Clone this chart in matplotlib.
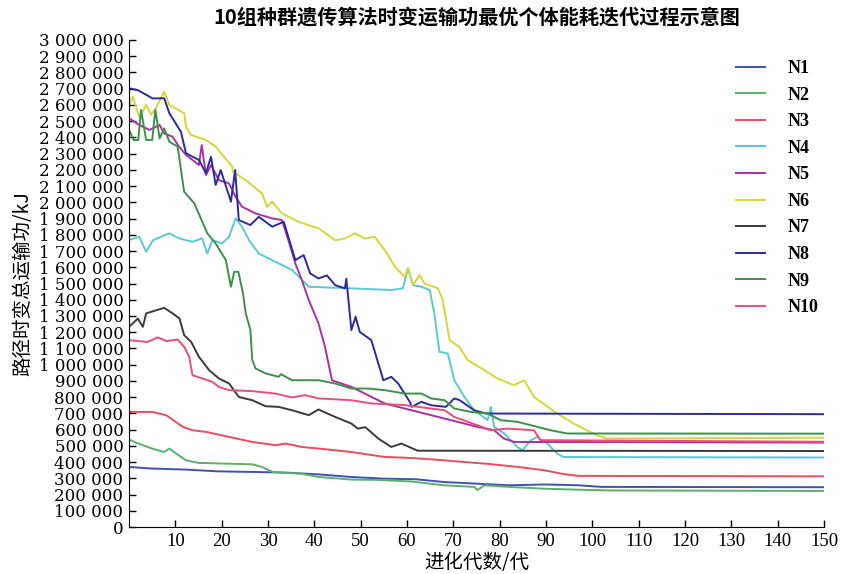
import matplotlib
matplotlib.use('Agg')
import matplotlib.pyplot as plt
import numpy as np
from matplotlib.ticker import FuncFormatter

# 数据读自原图 (x: 进化代数, y: 千kJ)
x_n1 = [0, 5, 12, 19, 27, 34, 41, 48, 55, 62, 68, 75, 82, 90, 97, 102, 150]
y_n1 = [370, 360, 354, 343, 339, 335, 324, 308, 298, 294, 277, 267, 257, 262, 257, 247, 245]

x_n2 = [0, 2, 5, 7.6, 8.7, 10.2, 12.3, 15, 21.6, 26.6, 28.7, 31, 34, 37, 41, 48, 54, 61, 68,
        74.5, 75.2, 76.7, 82, 89.5, 96.7, 104, 150]
y_n2 = [539, 514, 483, 462, 483, 452, 411, 395, 390, 386, 370, 339, 333, 329, 308, 292, 290, 280, 257,
        247, 228, 257, 247, 236, 230, 225, 222]

x_n3 = [0, 5, 8, 11.6, 13.7, 16.6, 21.6, 26.6, 31.6, 33.8, 37.3, 41, 48, 55, 61, 68, 72, 77, 84,
        89.5, 94, 97, 150]
y_n3 = [709, 709, 689, 617, 596, 586, 555, 524, 504, 514, 493, 483, 462, 432, 425, 411, 401, 390, 370,
        350, 325, 315, 312]

x_n4 = [0, 2.2, 3.7, 5.2, 8.7, 10.8, 13.7, 15.8, 16.9, 18, 20.1, 21.6, 23, 24.4, 25.9, 28, 31.6, 35.2,
        38.8, 48, 56.6, 59.1, 60.2, 61.3, 63.1, 64.9, 65.9, 67, 68.8, 70.2, 72.4, 74.5, 77.4, 78.1,
        78.8, 81, 83.8, 84.9, 86.7, 88.1, 90.3, 92.4, 93.8, 150]
y_n4 = [1767, 1788, 1695, 1767, 1809, 1778, 1757, 1778, 1685, 1767, 1747, 1788, 1901, 1850, 1767, 1685,
        1634, 1583, 1480, 1470, 1460, 1470, 1593, 1490, 1480, 1460, 1316, 1079, 1069, 904, 801, 719,
        658, 740, 617, 576, 493, 473, 534, 555, 514, 452, 431, 428]

x_n5 = [0, 2.2, 4.4, 6.6, 7.6, 9.4, 10.8, 12.3, 15.1, 15.7, 16.6, 17.7, 19.4, 21.6, 23, 24.4, 27.3,
        30.9, 33, 34.4, 35.9, 37.3, 38.8, 40.9, 42.3, 43.8, 48, 55.2, 61, 68.1, 75.2, 78.8, 80.9,
        83.1, 150]
y_n5 = [2518, 2477, 2446, 2477, 2425, 2404, 2343, 2292, 2230, 2353, 2168, 2230, 2137, 2116, 2034, 1973,
        1932, 1901, 1891, 1767, 1624, 1521, 1398, 1254, 1110, 904, 863, 761, 719, 668, 617, 596, 545,
        524, 520]

x_n6 = [0, 0.8, 2.3, 3.7, 4.8, 6, 7.6, 8.7, 11.9, 12.3, 13.4, 16.6, 18.7, 22.3, 22.4, 25.2, 28.7,
        29.8, 30.9, 33, 36.6, 40.9, 44.5, 46.6, 48.8, 50.9, 53, 55.2, 57.4, 59.5, 60.2, 61.3, 62.7,
        63.8, 66.7, 67.7, 69.2, 71.3, 73.1, 76.7, 79.5, 83.1, 85.3, 87.4, 92.4, 96, 98.8, 101,
        103.1, 150]
y_n6 = [2600, 2650, 2520, 2600, 2540, 2590, 2682, 2600, 2549, 2466, 2415, 2384, 2343, 2219, 2189, 2137,
        2055, 1973, 2004, 1932, 1880, 1840, 1767, 1777, 1809, 1777, 1788, 1706, 1603, 1541, 1593, 1490,
        1552, 1500, 1470, 1398, 1151, 1110, 1028, 966, 915, 874, 904, 801, 699, 637, 596, 565, 545, 550]

x_n7 = [0, 0.8, 1.9, 3, 3.7, 7.6, 9.4, 10.9, 11.9, 13.4, 15.1, 17.3, 19.4, 21.6, 23.7, 26.6, 29.5,
        32.3, 35.2, 38.8, 40.9, 44.5, 48, 49.4, 51, 53.8, 56.6, 58.8, 62.3, 150]
y_n7 = [1233, 1254, 1284, 1233, 1316, 1350, 1316, 1285, 1182, 1141, 1048, 966, 915, 884, 801, 781, 744,
        740, 719, 689, 724, 678, 637, 606, 615, 545, 493, 514, 470, 468]

x_n8 = [0, 2, 5.1, 7.6, 8.7, 11.2, 12.3, 15.1, 16.6, 17.7, 18.7, 19.8, 22, 22.9, 23.7, 26.2, 28, 30.9,
        33.4, 35.9, 37.7, 39.1, 40.9, 42.7, 44.5, 46.6, 46.9, 48, 48.9, 49.8, 52.3, 54.9, 56.6,
        58.1, 60.6, 61, 63.1, 65.2, 68.4, 70.2, 71.3, 74.5, 77, 150]
y_n8 = [2703, 2690, 2640, 2641, 2549, 2435, 2302, 2261, 2179, 2281, 2107, 2199, 2004, 2199, 1891, 1860,
        1911, 1850, 1880, 1644, 1675, 1562, 1531, 1550, 1490, 1470, 1530, 1213, 1295, 1202, 1151, 904,
        925, 884, 771, 740, 771, 750, 740, 792, 782, 719, 699, 695]

x_n9 = [0, 1, 2, 2.6, 3.7, 5, 5.7, 6.6, 7.6, 8.7, 10.5, 11.9, 14.1, 16.9, 18.7, 20.9, 22, 22.7, 23.6,
        24.6, 25.2, 26.2, 26.6, 27.3, 29.5, 32.3, 32.8, 35.2, 40.9, 44.5, 48, 51.6, 55.2, 59.5,
        63.1, 65.2, 68.1, 70.2, 73.8, 77.4, 80.2, 83.8, 88.1, 91, 94.6, 150]
y_n9 = [2446, 2384, 2384, 2569, 2384, 2384, 2569, 2394, 2456, 2374, 2343, 2065, 1994, 1809, 1747, 1644,
        1480, 1572, 1572, 1440, 1316, 1213, 1028, 977, 946, 925, 941, 904, 904, 884, 853, 853, 843,
        822, 822, 792, 781, 730, 709, 699, 658, 648, 617, 596, 576, 575]

x_n10 = [0, 4, 6.2, 8.1, 10.5, 11.9, 13, 13.7, 15.8, 18, 19.4, 21.6, 26.6, 31.6, 35.2, 38, 41, 48,
         52.3, 59.5, 68.1, 70.2, 75.2, 78, 81.7, 87.4, 88.8, 150]
y_n10 = [1151, 1140, 1168, 1145, 1155, 1110, 1048, 935, 915, 894, 863, 843, 837, 822, 798, 812, 792,
         781, 761, 751, 719, 678, 627, 596, 606, 596, 535, 525]

series = [
    ('N1', x_n1, y_n1, '#3f51b5'),
    ('N2', x_n2, y_n2, '#5daf6e'),
    ('N3', x_n3, y_n3, '#e84d5f'),
    ('N4', x_n4, y_n4, '#5bc8d2'),
    ('N5', x_n5, y_n5, '#a8329e'),
    ('N6', x_n6, y_n6, '#d4d63a'),
    ('N7', x_n7, y_n7, '#3a3a3a'),
    ('N8', x_n8, y_n8, '#2b2b9c'),
    ('N9', x_n9, y_n9, '#3f8f4c'),
    ('N10', x_n10, y_n10, '#e8507a'),
]

cjk = ['Noto Sans CJK SC', 'DejaVu Sans']
serif = 'Liberation Serif'

fig = plt.figure(figsize=(8.45, 5.74), dpi=100)
ax = fig.add_axes([129 / 845, 1 - 527 / 574, (824 - 129) / 845, (527 - 40) / 574])

for nombre, xs, ys, color in series:
    ax.plot(xs, np.array(ys) * 1000, color=color, lw=1.4, label=nombre)

ax.set_xlim(0, 150)
ax.set_ylim(0, 3000000)
ax.set_xticks(np.arange(10, 151, 10))
ax.set_yticks(np.arange(0, 3000001, 100000))
ax.yaxis.set_major_formatter(FuncFormatter(lambda v, p: f'{int(v):,}'.replace(',', ' ')))

for lab in ax.get_xticklabels():
    lab.set_fontfamily(serif)
    lab.set_fontsize(13.5)
for lab in ax.get_yticklabels():
    lab.set_fontfamily('DejaVu Serif')
    lab.set_fontsize(12)

ax.tick_params(direction='in', length=5, width=1, pad=4)
ax.spines['top'].set_visible(False)
ax.spines['right'].set_visible(False)

ax.set_title('10组种群遗传算法时变运输功最优个体能耗迭代过程示意图',
             family=cjk, fontsize=14.5, fontweight='bold', pad=12)
ax.set_xlabel('进化代数/代', family=cjk, fontsize=14, labelpad=2)
ax.set_ylabel('路径时变总运输功/kJ', family=cjk, fontsize=14, labelpad=4)

leg = ax.legend(loc='upper left', bbox_to_anchor=(727 / 845, 1 - 51 / 574),
                bbox_transform=fig.transFigure, frameon=False, borderpad=0,
                handlelength=1.6, handletextpad=1.25, labelspacing=0.53,
                prop={'family': serif, 'size': 13, 'weight': 'bold'})

fig.savefig('out.png', dpi=100)
